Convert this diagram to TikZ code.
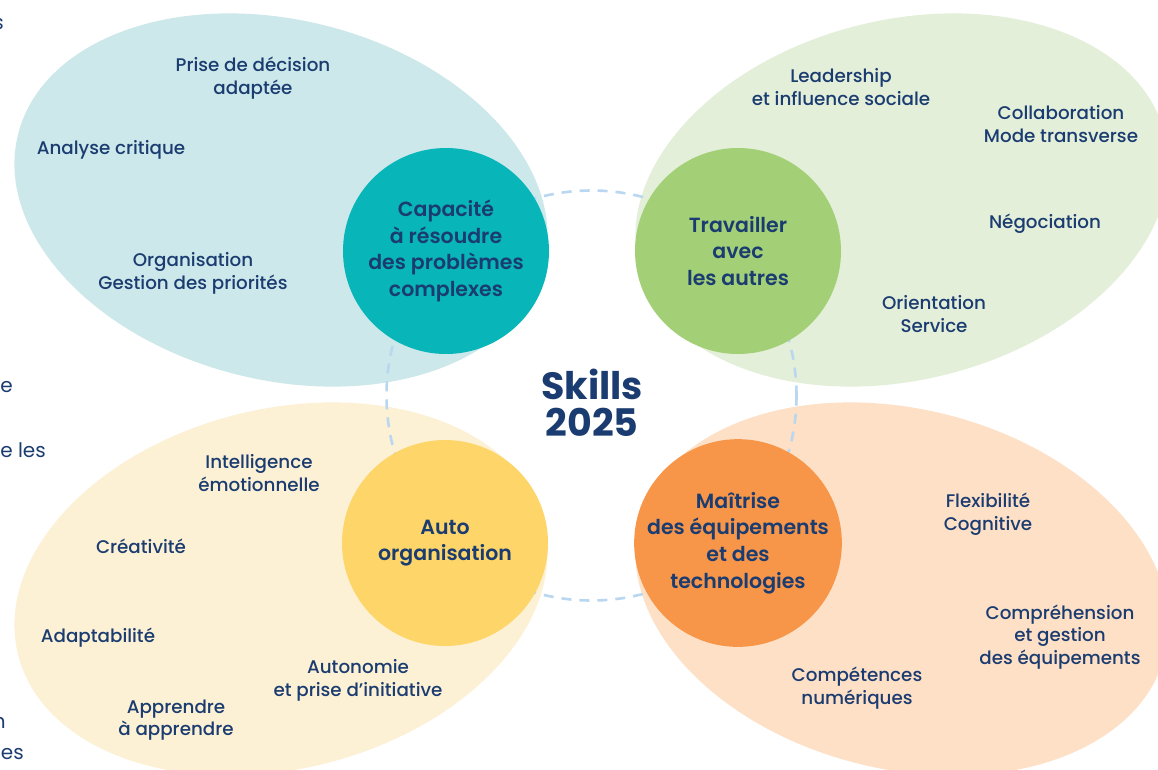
\documentclass[tikz,border=0pt]{standalone}
\usepackage{fontspec}
\setmainfont{Poppins}
\newfontfamily\labfont{Poppins Medium}
\newfontfamily\hubfont{Poppins SemiBold}
\definecolor{navy}{HTML}{1B3C70}
\definecolor{tealL}{HTML}{CCE8EA}
\definecolor{tealD}{HTML}{08B6BA}
\definecolor{greenL}{HTML}{E3EFD9}
\definecolor{greenD}{HTML}{A3D077}
\definecolor{yellowL}{HTML}{FDF1D5}
\definecolor{yellowD}{HTML}{FDD568}
\definecolor{orangeL}{HTML}{FDE0C6}
\definecolor{orangeD}{HTML}{F79548}
\definecolor{ringC}{HTML}{B9D7F0}
\begin{document}
\begin{tikzpicture}[x=1pt,y=-1pt,
  lab/.style={text=navy, font=\labfont\fontsize{18.3}{22.7}\selectfont, align=center, inner sep=0pt},
  hub/.style={circle, minimum size=206pt, inner sep=0pt, text=navy,
    font=\hubfont\fontsize{20.5}{26.7}\selectfont, align=center},
  frag/.style={text=navy, font=\fontsize{20}{24}\selectfont, inner sep=0pt, anchor=base east},
  ring/.style={circle, draw=ringC, line width=2.6pt, dash pattern=on 10pt off 8pt, minimum size=410pt, inner sep=0pt}
]
\useasboundingbox (0,0) rectangle (1158,769);
\fill[white] (0,0) rectangle (1158,769);

% background ellipses
\fill[tealL, rotate around={-14:(281,200)}] (281,200) ellipse [x radius=271pt, y radius=180pt];
\fill[greenL, rotate around={14:(902,200)}] (902,200) ellipse [x radius=271pt, y radius=180pt];
\fill[yellowL, rotate around={14:(281,589)}] (281,589) ellipse [x radius=271pt, y radius=180pt];
\fill[orangeL, rotate around={-14:(902,589)}] (902,589) ellipse [x radius=271pt, y radius=180pt];

% dashed ring
\node[ring] (ringc) at (591.5,395.5) {};

% hubs
\node[hub, fill=tealD] (cap) at (446,251) {Capacité\\à résoudre\\des problèmes\\complexes};
\node[hub, fill=greenD] (trav) at (738,251) {Travailler\\avec\\les autres};
\node[hub, fill=yellowD] (auto) at (445,543) {Auto\\organisation};
\node[hub, fill=orangeD] (maitr) at (738,543) {Maîtrise\\des équipements\\et des\\technologies};

% centre title
\node[text=navy, font=\bfseries\fontsize{38}{37}\selectfont, align=center, inner sep=0pt] (title) at (592,403) {Skills\\2025};

% teal labels
\node[lab] (pd) at (253,78) {Prise de décision\\adaptée};
\node[lab] (ac) at (111,150) {Analyse critique};
\node[lab] (og) at (193,273) {Organisation\\Gestion des priorités};

% green labels
\node[lab] (ld) at (841,87) {Leadership\\et influence sociale};
\node[lab] (co) at (1061,124) {Collaboration\\Mode transverse};
\node[lab] (ne) at (1045,224) {Négociation};
\node[lab] (os) at (934,314) {Orientation\\Service};

% yellow labels
\node[lab] (ie) at (259,473) {Intelligence\\émotionnelle};
\node[lab] (cr) at (141,546) {Créativité};
\node[lab] (ad) at (98,638) {Adaptabilité};
\node[lab] (aa) at (176,720) {Apprendre\\à apprendre};
\node[lab] (au) at (358,680) {Autonomie\\et prise d’initiative};

% orange labels
\node[lab] (fc) at (988,514) {Flexibilité\\Cognitive};
\node[lab] (cg) at (1060,637) {Compréhension\\et gestion\\des équipements};
\node[lab] (cn) at (857,688) {Compétences\\numériques};

% cut-off fragments at left edge
\node[frag] (f1) at (4,29) {s};
\node[frag] (f2) at (13,392) {e};
\node[frag] (f3) at (46,457) {e les};
\node[frag] (f4) at (6,728) {n};
\node[frag] (f5) at (24,759) {es};
\end{tikzpicture}
\end{document}
